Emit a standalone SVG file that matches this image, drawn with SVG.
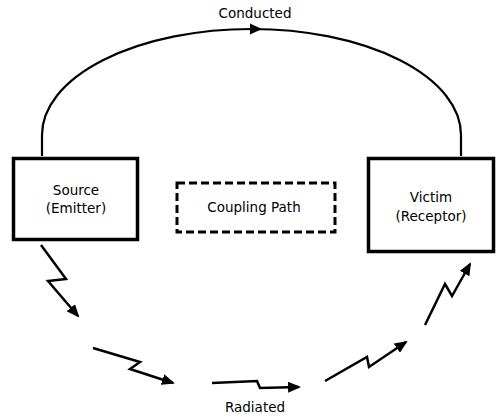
<svg xmlns="http://www.w3.org/2000/svg" width="496" height="417" viewBox="0 0 496 417">
<style>
text{font-family:"DejaVu Sans","Liberation Sans",sans-serif;font-size:13.5px;fill:#000;text-anchor:middle}
.box{fill:#fff;stroke:#000;stroke-width:3.5}
.dash{fill:none;stroke:#000;stroke-width:3;stroke-dasharray:8 4}
.wire{fill:none;stroke:#000;stroke-width:2.2}
.zig{fill:none;stroke:#000;stroke-width:2.5;stroke-linejoin:miter;marker-end:url(#ah)}
</style>
<defs>
<marker id="ah" viewBox="0 0 13 11" refX="11" refY="5.5" markerWidth="13" markerHeight="11" markerUnits="userSpaceOnUse" orient="auto">
<path d="M0,0 L13,5.5 L0,11 z" fill="#000"/>
</marker>
</defs>
<rect width="496" height="417" fill="#fff"/>
<g id="connectors">
<path class="wire" d="M42,156 L42,135 A209.5,106 0 0 1 461,135 L461,156"/>
<path d="M262,29 L250,23.5 L250,34.5 z" fill="#000"/>
<path class="zig" d="M41,245 L66,279 L48,281 L78,316"/>
<path class="zig" d="M93,348 L140,362 L130,369 L173,383"/>
<path class="zig" d="M212,383 L257,381 L260,388 L299,387"/>
<path class="zig" d="M325,381 L367,357 L369,367 L406,342"/>
<path class="zig" d="M425,325 L445,284 L452,296 L470,264"/>
<text x="255" y="18">Conducted</text>
<text x="255" y="412">Radiated</text>
</g>
<g id="source">
<rect class="box" x="13.5" y="158.5" width="124" height="81"/>
<text x="76" y="195">Source</text>
<text x="76" y="213">(Emitter)</text>
</g>
<g id="coupling">
<rect class="dash" x="177" y="183" width="158" height="49"/>
<text x="254" y="212">Coupling Path</text>
</g>
<g id="victim">
<rect class="box" x="368.5" y="158.5" width="125" height="93"/>
<text x="431" y="202">Victim</text>
<text x="431" y="221">(Receptor)</text>
</g>
</svg>
